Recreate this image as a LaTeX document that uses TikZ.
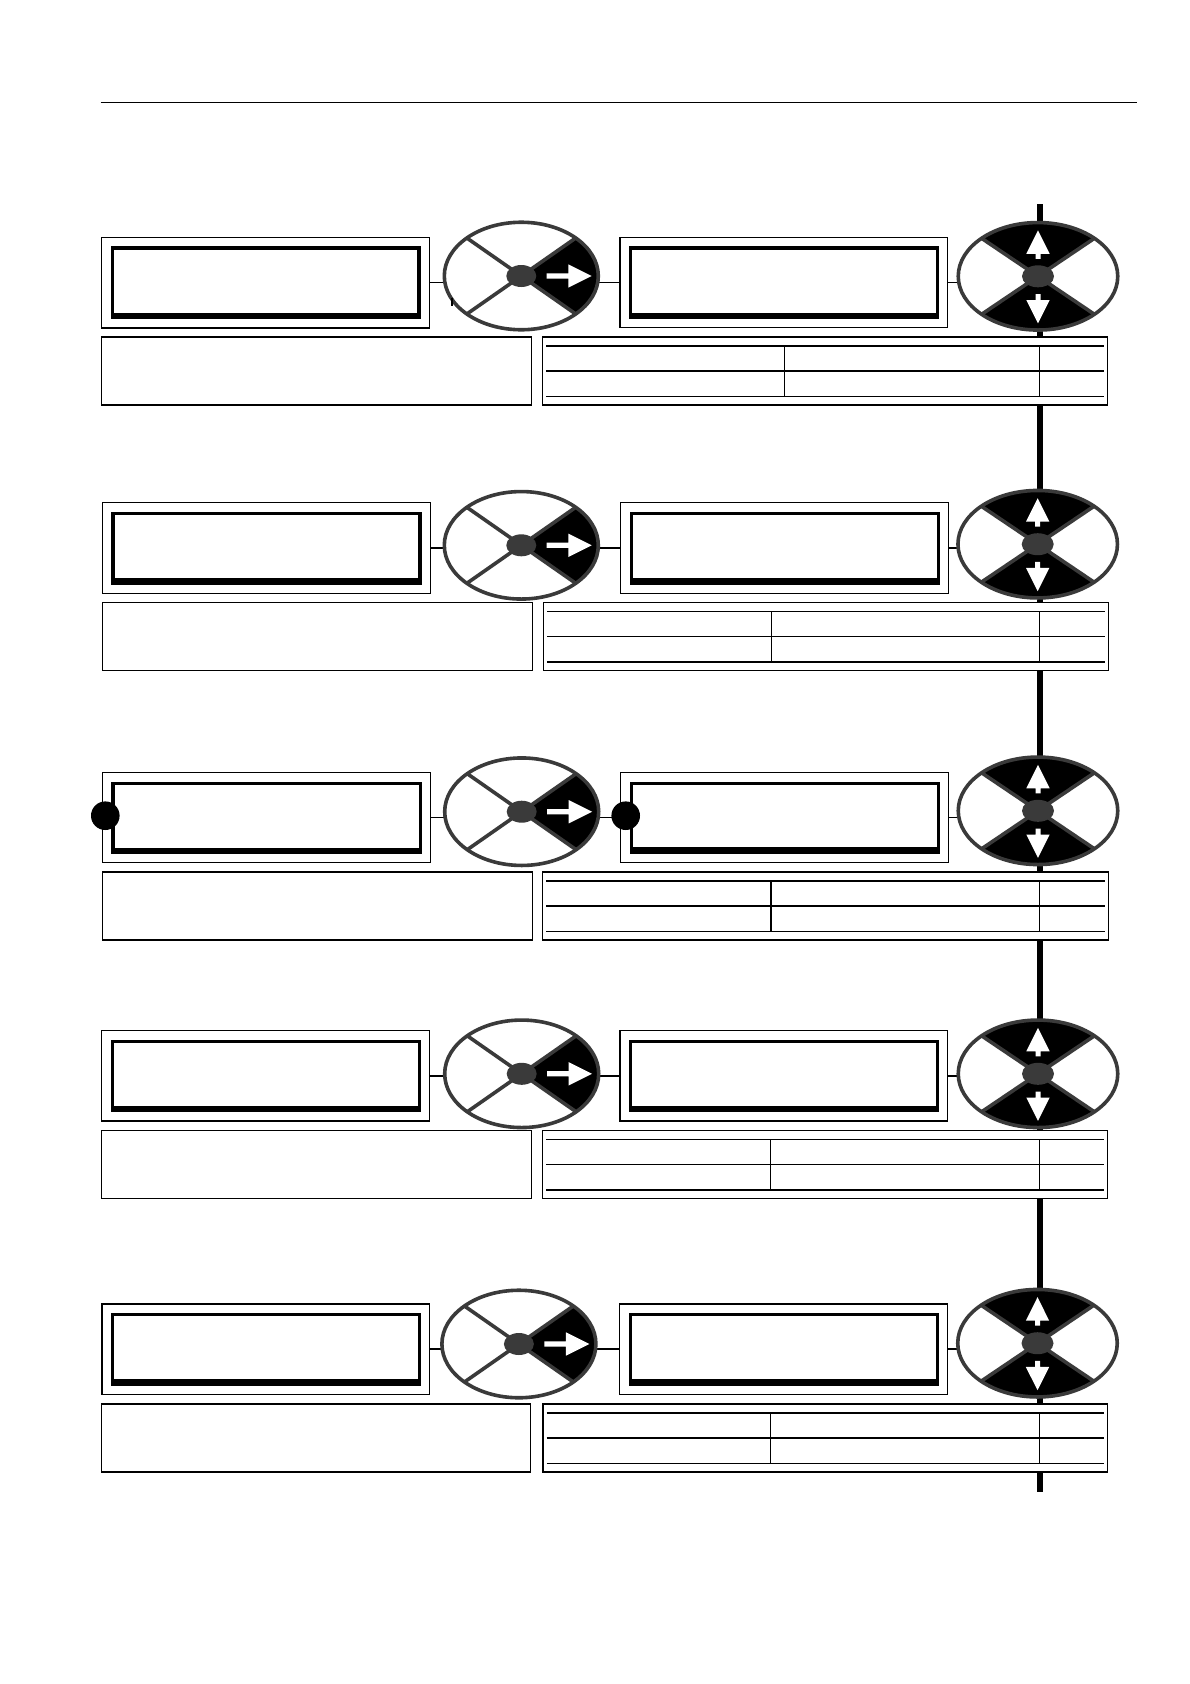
\documentclass[tikz,border=0pt]{standalone}
\usetikzlibrary{shapes.geometric,backgrounds}
\definecolor{rimgray}{HTML}{3A3A3A}
\tikzset{
 lcdout/.style={draw=black, line width=1.3pt, fill=white, rectangle, inner sep=0pt},
 lcdin/.style={draw=black, line width=3.4pt},
 descbox/.style={draw=black, line width=1.5pt, fill=white, rectangle, inner sep=0pt},
 tabbox/.style={draw=black, line width=1.5pt, fill=white, rectangle, inner sep=0pt},
 tabline/.style={draw=black, line width=1.1pt},
 conn/.style={draw=black, line width=1.2pt},
 connthick/.style={draw=black, line width=1.8pt},
 rim/.style={draw=rimgray, line width=3.6pt},
 spoke/.style={draw=rimgray, line width=3.6pt},
 hub/.style={fill=rimgray},
 wheelbase/.style={ellipse, inner sep=0pt, fill=white},
 bigdot/.style={circle, fill=black, inner sep=0pt, minimum size=28.6pt},
}
% LCD display box: name, left, top, right, bottom
\newcommand\lcdbox[5]{%
  \node[lcdout, minimum width={(#4-#2)*1pt}, minimum height={(#5-#3)*1pt}] (#1) at ({(#2+#4)/2},{(#3+#5)/2}) {};
  \draw[lcdin] ({#2+10.7},{#3+10.7}) rectangle ({#4-10.3},{#5-13.4});
  \fill ({#2+9},{#5-15.1}) rectangle ({#4-8.6},{#5-8.7});
}
% left navigation wheel (right sector black): name, cx, cy
\newcommand\wheelL[3]{%
 \begin{scope}[shift={(#2,#3)}]
  \node[wheelbase, minimum width=154pt, minimum height=107.5pt] (#1) at (0,0) {};
  \begin{scope}
   \clip (0,0) ellipse [x radius=77, y radius=53.75];
   \fill (0,0) -- (154,107.5) -- (154,-107.5) -- cycle;
   \draw[spoke] (-77,-53.75) -- (77,53.75) (-77,53.75) -- (77,-53.75);
  \end{scope}
  \draw[rim] (0,0) ellipse [x radius=77, y radius=53.75];
  \fill[hub] (0,0) ellipse [x radius=15, y radius=11];
  \fill[white] (25.4,-2.6) -- (47,-2.6) -- (47,-11.7) -- (70.4,0) -- (47,11.7) -- (47,2.6) -- (25.4,2.6) -- cycle;
 \end{scope}}
% right navigation wheel (top and bottom sectors black): name, cx, cy
\newcommand\wheelR[3]{%
 \begin{scope}[shift={(#2,#3)}]
  \node[wheelbase, minimum width=159.5pt, minimum height=107.5pt] (#1) at (0,0) {};
  \begin{scope}
   \clip (0,0) ellipse [x radius=79.75, y radius=53.75];
   \fill (0,0) -- (159.5,-107.5) -- (-159.5,-107.5) -- cycle;
   \fill (0,0) -- (159.5,107.5) -- (-159.5,107.5) -- cycle;
   \draw[spoke] (-79.75,-53.75) -- (79.75,53.75) (-79.75,53.75) -- (79.75,-53.75);
  \end{scope}
  \draw[rim] (0,0) ellipse [x radius=79.75, y radius=53.75];
  \fill[hub] (0,0) ellipse [x radius=16, y radius=11];
  \fill[white] (-2.5,-17.5) -- (-2.5,-22.5) -- (-11.7,-22.5) -- (0,-46) -- (11.7,-22.5) -- (2.5,-22.5) -- (2.5,-17.5) -- cycle;
  \fill[white] (-2.5,17.7) -- (-2.5,23.7) -- (-11.7,23.7) -- (0,47) -- (11.7,23.7) -- (2.5,23.7) -- (2.5,17.7) -- cycle;
 \end{scope}}
% description box: name, left, top, right
\newcommand\dbox[4]{%
 \node[descbox, minimum width={(#4-#2)*1pt}, minimum height=68pt] (#1) at ({(#2+#4)/2},{#3+34}) {};}
% parameter table: name, left, top, right, column x
\newcommand\ptab[5]{%
 \node[tabbox, minimum width={(#4-#2)*1pt}, minimum height=68pt] (#1) at ({(#2+#4)/2},{#3+34}) {};
 \draw[tabline] ({#2+3.7},{#3+9}) -- ({#4-3.3},{#3+9})
   ({#2+3.7},{#3+34}) -- ({#4-3.3},{#3+34})
   ({#2+3.7},{#3+59.3}) -- ({#4-3.3},{#3+59.3})
   (#5,{#3+9}) -- (#5,{#3+59.3})
   (1039.5,{#3+9}) -- (1039.5,{#3+59.3});
}
\begin{document}
\begin{tikzpicture}[x=1pt,y=-1pt]
\useasboundingbox (0,0) rectangle (1190,1684);

% header rule
\draw[line width=1.3pt] (100.7,102.3) -- (1137,102.3);

% row 1
\lcdbox{a1}{101.7}{237.3}{429.3}{328}
\lcdbox{c1}{620}{237.3}{947.7}{327.7}
\dbox{d1}{101.7}{337}{531.7}
\ptab{t1}{542.3}{337}{1107.3}{784.3}
\wheelL{w1}{521.3}{276}
\wheelR{v1}{1038}{276.3}
\fill (450.7,298) rectangle (453.4,306);

% row 2
\lcdbox{a2}{102.3}{502.7}{430.3}{593.3}
\lcdbox{c2}{620.7}{502.7}{948.7}{593.3}
\dbox{d2}{102.3}{602.7}{532.7}
\ptab{t2}{543.3}{602.7}{1108.7}{771.7}
\wheelL{w2}{521.3}{545.3}
\wheelR{v2}{1037.7}{544.2}

% row 3
\lcdbox{a3}{102.3}{772.7}{430.7}{862.7}
\lcdbox{c3}{620.7}{772.7}{948.7}{862.3}
\dbox{d3}{102.3}{872}{532.7}
\ptab{t3}{542.7}{872}{1108.7}{771}
\wheelL{w3}{521.7}{811.7}
\wheelR{v3}{1038}{810.8}
\node[bigdot] (p3a) at (105.3,815.7) {};
\node[bigdot] (p3c) at (625.7,815.7) {};

% row 4
\lcdbox{a4}{101.7}{1030.7}{429.7}{1121}
\lcdbox{c4}{620}{1030.7}{947.7}{1121}
\dbox{d4}{101.7}{1130.7}{531.7}
\ptab{t4}{542.3}{1130.7}{1107.3}{770.7}
\wheelL{w4}{521.7}{1073.8}
\wheelR{v4}{1038}{1073.8}

% row 5
\lcdbox{a5}{102}{1304}{429.6}{1394.5}
\lcdbox{c5}{619.6}{1304}{947.7}{1394.3}
\dbox{d5}{101.7}{1404}{530.7}
\ptab{t5}{542.8}{1404}{1107.5}{770.4}
\wheelL{w5}{518.9}{1344}
\wheelR{v5}{1037.5}{1343.2}

\begin{pgfonlayer}{background}
 \fill[white] (0,0) rectangle (1190,1684);
 \draw[line width=6pt] (1040,204) -- (1040,1492);
 \foreach \r in {1,2,3}{
  \draw[conn] (a\r.east) -- (a\r.east -| w\r.center);
  \draw[conn] (c\r.west -| w\r.center) -- (c\r.west);
  \draw[conn] (c\r.east) -- (c\r.east -| v\r.center);
 }
 \foreach \r in {4,5}{
  \draw[connthick] (a\r.east) -- (a\r.east -| w\r.center);
  \draw[connthick] (c\r.west -| w\r.center) -- (c\r.west);
  \draw[connthick] (c\r.east) -- (c\r.east -| v\r.center);
 }
\end{pgfonlayer}
\end{tikzpicture}
\end{document}
